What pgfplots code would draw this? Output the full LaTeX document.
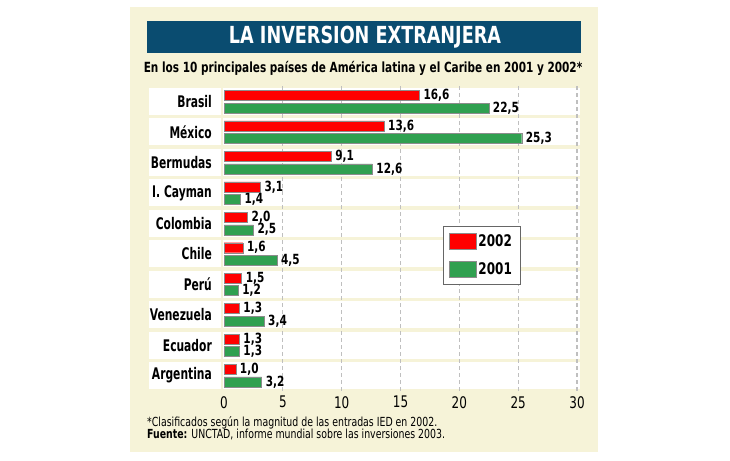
\documentclass[border=0pt]{standalone}
\usepackage{fontspec}
\setmainfont{DejaVu Sans}[FakeStretch=0.75]
\newfontfamily\lab{DejaVu Sans}[FakeStretch=0.67]
\usepackage{pgfplots}
\pgfplotsset{compat=1.18}
\definecolor{panel}{RGB}{246,243,216}
\definecolor{titlebar}{RGB}{10,76,112}
\definecolor{barred}{RGB}{255,0,0}
\definecolor{bargreen}{RGB}{48,160,80}
\newcommand{\fs}[1]{\fontsize{#1}{#1}\selectfont}
\begin{document}
\begin{tikzpicture}[x=1pt,y=1pt]
\fill[white] (0,0) rectangle (730,-460);
\fill[panel] (130,-7) rectangle (598,-452);
\fill[titlebar] (147,-21) rectangle (581,-53);
\node[text=white, font=\bfseries\fs{23.5}] at (365,-37.5) {LA INVERSION EXTRANJERA};
\node[font=\bfseries\fs{14}] at (363,-68) {En los 10 principales países de América latina y el Caribe en 2001 y 2002*};
\foreach \i in {0,...,9} {
  \pgfmathsetmacro{\c}{101.5+30.44*\i}
  \fill[white] (149,-\c+13.5) rectangle (221,-\c-13.5);
  \fill[white] (223,-\c+13.5) rectangle (580,-\c-13.5);
}
\node[anchor=west, font=\fs{12.5}, inner sep=0pt] at (147,-423) {*Clasificados según la magnitud de las entradas IED en 2002.};
\node[anchor=west, font=\fs{12.5}, inner sep=0pt] at (147,-434) {\textbf{Fuente:} UNCTAD, informe mundial sobre las inversiones 2003.};
\begin{axis}[
  at={(224pt,-390.7pt)}, anchor=south west,
  scale only axis, width=353pt, height=304.4pt,
  xmin=0, xmax=30, ymin=-0.5, ymax=9.5,
  xbar, bar width=10pt,
  /pgf/number format/assume math mode=true,
  axis line style={draw=none}, major tick length=0pt,
  xtick={0,5,...,30},
  extra x ticks={5,10,...,30}, extra x tick labels={},
  extra x tick style={xmajorgrids=true},
  grid style={dashed, gray!50, line width=1.1pt, dash pattern=on 4pt off 3pt},
  ytick={0,...,9},
  yticklabels={Argentina,Ecuador,Venezuela,Perú,Chile,Colombia,I. Cayman,Bermudas,México,Brasil},
  xticklabel style={font=\fs{16}, yshift=-2pt},
  yticklabel style={font=\lab\bfseries\fs{16}, anchor=east, inner sep=0pt, xshift=-12pt},
  point meta=x,
  nodes near coords={\pgfmathprintnumber[fixed,fixed zerofill,precision=1,use comma,assume math mode=true]{\pgfplotspointmeta}},
  nodes near coords style={font=\bfseries\fs{14}, anchor=west, inner sep=0pt, xshift=4pt},
  legend style={at={(0.620,0.541)}, anchor=north west, draw=black!60, fill=white,
    font=\bfseries\fs{16}, inner xsep=6pt, inner ysep=6pt, row sep=11pt},
  legend cell align=left,
  legend image code/.code={\draw[#1,draw=black!45] (0pt,-8pt) rectangle (27pt,8pt);},
  clip=false,
]
\addplot[fill=barred, draw=black!45, bar shift=6pt] coordinates {(16.6,9) (13.6,8) (9.1,7) (3.1,6) (2.0,5) (1.6,4) (1.5,3) (1.3,2) (1.3,1) (1.0,0)};
\addlegendentry{2002\hspace{6pt}}
\addplot[fill=bargreen, draw=black!45, bar shift=-6.5pt] coordinates {(22.5,9) (25.3,8) (12.6,7) (1.4,6) (2.5,5) (4.5,4) (1.2,3) (3.4,2) (1.3,1) (3.2,0)};
\addlegendentry{2001\hspace{6pt}}
\end{axis}
\end{tikzpicture}
\end{document}
